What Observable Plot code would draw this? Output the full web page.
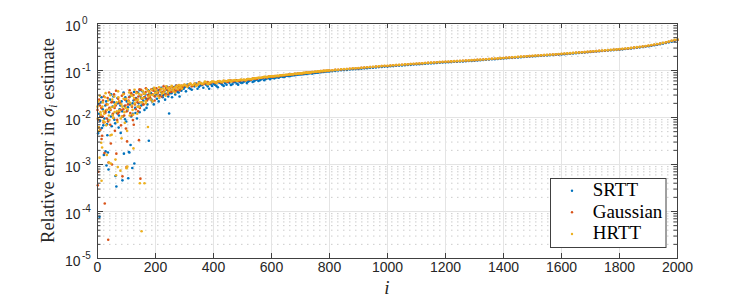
<!DOCTYPE html>
<html>
<head>
<meta charset="utf-8">
<script src="https://cdn.jsdelivr.net/npm/d3@7"></script>
<script src="https://cdn.jsdelivr.net/npm/@observablehq/plot@0.6"></script>
<style>
  html, body { margin: 0; padding: 0; background: #fff; }
  #chart { width: 747px; height: 301px; }
</style>
</head>
<body>
<div id="chart"></div>
<script>
// ---------- data ----------
const seriesNames = ["SRTT", "Gaussian", "HRTT"];
const seriesColors = ["#0072BD", "#D95319", "#EDB120"];

const xTicks = [0, 200, 400, 600, 800, 1000, 1200, 1400, 1600, 1800, 2000];
const yTicks = [1e-5, 1e-4, 1e-3, 1e-2, 1e-1, 1];
const yTickExps = ["-5", "-4", "-3", "-2", "-1", "0"];
const yMinorMult = [2, 3, 4, 5, 6, 7, 8, 9];

// scattered region, [i, relative error]
const srttEarly = [[2,0.0046],[5,0.012],[7,7.7e-5],[9,0.0085],[12,0.021],[15,0.006],[18,0.015],[22,0.0016],[24,0.0095],[27,0.018],[28,0.0019],[31,9.5e-4],[33,0.0072],[34,0.0042],[36,0.0018],[38,7.8e-4],[40,0.013],[43,0.024],[46,0.0105],[49,0.0065],[52,0.017],[55,0.028],[58,0.009],[62,5.7e-4],[65,3.4e-4],[67,0.0125],[70,0.02],[73,0.0061],[76,0.015],[80,0.0047],[83,0.022],[86,4.6e-4],[88,0.0105],[91,0.0017],[93,0.0175],[96,0.027],[99,0.0082],[103,0.014],[106,5.1e-4],[108,0.00185],[110,0.0018],[112,0.019],[114,0.0026],[117,0.031],[120,8.4e-4],[122,0.012],[124,0.023],[127,0.00105],[130,0.016],[133,0.026],[136,0.0095],[139,0.034],[142,0.02],[145,0.013],[148,0.029],[151,0.018],[155,0.036],[158,0.023],[162,0.0145],[165,0.031],[168,0.025],[172,0.019],[175,0.038],[177,0.0032],[180,0.027],[184,0.033],[188,0.022],[192,0.041],[196,0.029],[200,0.035],[205,0.025],[210,0.038],[215,0.03],[220,0.043],[225,0.027],[230,0.036],[235,0.032],[240,0.045],[244,0.028],[247,0.0122],[250,0.038],[255,0.033],[260,0.041],[265,0.036],[270,0.047],[275,0.039],[280,0.034],[285,0.044],[290,0.04],[295,0.046]];
const gaussEarly = [[0,0.0145],[1,3.6e-4],[3,7.0e-4],[4,0.0062],[8,0.018],[11,0.011],[14,0.0035],[16,0.0041],[19,0.023],[21,0.0078],[24,0.00175],[25,1.48e-4],[29,0.014],[32,0.0095],[35,0.026],[37,2.5e-5],[38,0.0011],[41,0.016],[44,0.007],[46,0.0028],[48,0.021],[50,0.001],[53,0.012],[57,0.031],[60,0.0052],[63,0.018],[65,0.0017],[68,0.0089],[71,0.025],[74,0.013],[78,0.02],[81,0.0068],[84,0.029],[86,5.6e-4],[89,0.015],[92,0.011],[95,0.024],[98,0.0058],[100,8.8e-4],[102,0.0031],[105,0.019],[109,0.027],[113,0.0125],[116,0.033],[119,0.017],[122,0.0088],[125,0.007],[128,0.024],[132,0.015],[135,0.035],[138,0.021],[141,0.028],[143,0.0033],[146,0.016],[148,5.0e-4],[150,0.039],[153,0.025],[157,0.019],[160,0.032],[164,0.027],[167,0.042],[171,0.023],[174,0.03],[178,0.036],[182,0.026],[186,0.04],[190,0.031],[194,0.037],[198,0.028],[203,0.042],[208,0.034],[213,0.029],[218,0.04],[223,0.035],[228,0.046],[233,0.031],[238,0.041],[243,0.037],[248,0.044],[253,0.035],[258,0.045],[263,0.04],[268,0.036],[273,0.048],[278,0.042],[283,0.038],[288,0.047],[293,0.043],[298,0.049]];
const hrttEarly = [[1,0.0095],[3,0.022],[6,0.0052],[7,0.0014],[10,0.013],[13,0.0029],[14,4.5e-4],[16,0.0023],[17,0.017],[20,0.0085],[23,0.012],[26,0.027],[30,0.0068],[32,0.0016],[35,0.019],[39,0.011],[40,0.0011],[42,0.015],[45,0.0042],[46,0.00105],[49,0.0043],[51,0.024],[54,0.0098],[56,0.017],[59,0.013],[62,0.00127],[64,5.9e-4],[66,0.021],[69,0.008],[70,8.8e-4],[72,0.027],[75,0.014],[79,7.4e-4],[82,0.019],[83,0.0036],[85,0.0105],[90,0.025],[94,0.0077],[97,0.016],[100,8.3e-4],[102,0.0052],[103,9.0e-4],[107,0.022],[111,0.011],[115,0.03],[118,0.018],[121,0.0145],[124,0.0022],[126,0.026],[129,0.02],[134,0.033],[137,0.012],[140,0.024],[144,0.017],[146,4.0e-4],[149,0.03],[152,3.8e-5],[154,0.021],[156,0.037],[159,0.026],[162,4.0e-4],[163,0.032],[166,0.022],[170,0.04],[174,0.0063],[176,0.028],[179,0.034],[183,0.024],[187,0.039],[191,0.03],[195,0.043],[199,0.033],[202,0.038],[207,0.029],[212,0.044],[217,0.036],[222,0.032],[227,0.041],[232,0.038],[237,0.046],[242,0.034],[246,0.042],[251,0.039],[256,0.047],[261,0.037],[266,0.043],[271,0.045],[276,0.04],[281,0.049],[286,0.044],[291,0.041],[296,0.048]];

// extra points filling the dense cloud and the lower band, [i, relative error]
const srttExtra = [[3,0.019],[10,0.0105],[14,0.027],[20,0.0068],[26,0.013],[30,0.022],[37,0.0088],[42,0.0155],[47,0.031],[53,0.0115],[57,0.021],[61,0.0075],[69,0.026],[74,0.011],[79,0.018],[85,0.0135],[90,0.034],[95,0.0092],[101,0.022],[105,0.0165],[111,0.028],[116,0.0105],[121,0.02],[126,0.035],[131,0.0125],[135,0.024],[141,0.017],[146,0.038],[150,0.026],
[153,0.021],[161,0.027],[169,0.016],[178,0.031],[186,0.024],[194,0.019],[203,0.031],[211,0.022],[219,0.035],[226,0.03],[233,0.024],[238,0.039],[249,0.033],[257,0.027],[263,0.044],[268,0.031],[276,0.035],[283,0.028],[289,0.037],[297,0.041],[305,0.036],[315,0.043],[325,0.039],[335,0.046],[345,0.041],[355,0.048],[365,0.043],[375,0.05],[385,0.041],[395,0.047],[405,0.05],[415,0.044],[425,0.053],[435,0.047],[445,0.05],[455,0.055],[465,0.051],[475,0.057],[485,0.05],[495,0.055],[505,0.058],[515,0.054],[525,0.061],[535,0.057],[545,0.063],[555,0.06],[565,0.065],[575,0.062],[585,0.068],[595,0.065],[605,0.069],[615,0.071],[625,0.07],[635,0.075],[645,0.073],[655,0.077],[665,0.077],[675,0.079],[685,0.08],[695,0.082],[705,0.083],[715,0.084],[725,0.086],[735,0.088],[745,0.089],[755,0.09],[765,0.092],[775,0.093],[785,0.095],[795,0.096]];
const gaussExtra = [[2,0.009],[6,0.024],[10,0.0055],[13,0.016],[18,0.0105],[22,0.028],[27,0.0125],[31,0.019],[36,0.0082],[40,0.034],[45,0.0145],[51,0.0215],[55,0.0098],[59,0.016],[64,0.037],[70,0.012],[75,0.022],[80,0.0145],[85,0.0105],[91,0.032],[96,0.018],[101,0.0135],[107,0.023],[111,0.038],[118,0.011],[124,0.03],[129,0.019],[134,0.025],[140,0.0135],[145,0.04],
[151,0.03],[159,0.019],[166,0.035],[174,0.025],[181,0.029],[189,0.038],[197,0.023],[206,0.033],[214,0.039],[221,0.028],[229,0.037],[236,0.043],[244,0.031],[251,0.04],[259,0.036],[266,0.043],[272,0.038],[279,0.045],[286,0.041],[294,0.046],[305,0.047],[315,0.05],[325,0.046],[335,0.052],[345,0.049],[355,0.054],[365,0.051],[375,0.055],[385,0.052],[395,0.057],[405,0.055],[415,0.058],[425,0.056],[435,0.06],[445,0.058],[455,0.061],[465,0.059],[475,0.062],[485,0.06],[495,0.063],[505,0.063],[515,0.064],[525,0.064],[535,0.067],[545,0.066],[555,0.069],[565,0.069],[575,0.072],[585,0.071],[595,0.074],[605,0.073],[615,0.076],[625,0.075],[635,0.078],[645,0.078],[655,0.08],[665,0.081],[675,0.082],[685,0.083],[695,0.085],[705,0.086],[715,0.088],[725,0.089],[735,0.09],[745,0.092],[755,0.093],[765,0.094],[775,0.096],[785,0.097],[795,0.099]];
const hrttExtra = [[0,0.017],[4,0.0062],[8,0.029],[12,0.0115],[18,0.021],[21,0.0135],[25,0.0079],[28,0.033],[33,0.0145],[37,0.023],[41,0.0088],[44,0.03],[48,0.0165],[52,0.0112],[58,0.028],[61,0.019],[67,0.0135],[71,0.036],[76,0.0225],[80,0.0095],[86,0.017],[89,0.031],[93,0.013],[99,0.025],[104,0.015],[109,0.034],[113,0.0205],[119,0.029],[123,0.0115],[128,0.039],[133,0.023],[138,0.017],[143,0.032],[147,0.021],
[152,0.026],[160,0.033],[167,0.02],[175,0.036],[182,0.03],[190,0.022],[198,0.04],[205,0.034],[213,0.026],[220,0.041],[228,0.034],[235,0.029],[241,0.042],[248,0.037],[254,0.045],[261,0.041],[267,0.034],[274,0.046],[282,0.043],[289,0.048],[305,0.048],[315,0.051],[325,0.049],[335,0.053],[345,0.05],[355,0.055],[365,0.053],[375,0.056],[385,0.054],[395,0.058],[405,0.057],[415,0.059],[425,0.058],[435,0.061],[445,0.059],[455,0.062],[465,0.061],[475,0.063],[485,0.062],[495,0.064],[505,0.064],[515,0.065],[525,0.066],[535,0.067],[545,0.068],[555,0.07],[565,0.07],[575,0.073],[585,0.072],[595,0.075],[605,0.075],[615,0.076],[625,0.077],[635,0.079],[645,0.08],[655,0.081],[665,0.082],[675,0.083],[685,0.084],[695,0.086],[705,0.087],[715,0.089],[725,0.09],[735,0.091],[745,0.093],[755,0.094],[765,0.095],[775,0.097],[785,0.098],[795,0.1]];

// tight band region, sampled at i = 300, 310, ..., 2000
const bandIdx = d3.range(300, 2001, 10);
const srttBand = [
.044,.050,.041,.047,.053,.045,.049,.055,.046,.051,
.052,.047,.055,.050,.054,.058,.049,.056,.053,.057,
.055,.060,.058,.063,.059,.064,.062,.068,.066,.069,
.070,.068,.072,.074,.073,.077,.076,.078,.079,.081,
.082,.083,.084,.087,.086,.089,.090,.092,.093,.095,
.095,.097,.098,.100,.101,.102,.103,.105,.106,.107,
.108,.109,.111,.112,.114,.115,.116,.118,.119,.121,
.121,.123,.124,.126,.127,.128,.130,.131,.132,.134,
.135,.136,.138,.139,.141,.142,.143,.145,.146,.148,
.149,.150,.151,.153,.154,.155,.156,.157,.159,.160,
.162,.164,.165,.167,.169,.171,.173,.174,.176,.178,
.180,.182,.184,.186,.188,.190,.192,.194,.196,.198,
.200,.202,.204,.206,.208,.210,.212,.214,.216,.218,
.220,.223,.225,.228,.231,.234,.237,.239,.242,.245,
.248,.251,.254,.257,.260,.263,.266,.269,.272,.275,
.278,.282,.286,.290,.295,.300,.305,.311,.317,.323,
.329,.337,.346,.355,.364,.374,.385,.397,.411,.427,
.449];
const gaussBand = [
.049,.046,.052,.048,.050,.056,.051,.053,.057,.054,
.057,.055,.059,.056,.060,.057,.061,.059,.062,.060,
.062,.061,.065,.064,.068,.067,.069,.071,.072,.074,
.074,.076,.076,.078,.080,.080,.082,.083,.085,.086,
.087,.088,.090,.091,.093,.094,.095,.097,.098,.099,
.100,.101,.103,.104,.105,.106,.107,.109,.110,.111,
.112,.114,.115,.117,.118,.119,.121,.122,.124,.125,
.125,.127,.129,.130,.131,.133,.134,.135,.137,.138,
.139,.141,.142,.144,.145,.146,.148,.149,.151,.152,
.153,.154,.156,.157,.158,.159,.160,.162,.163,.165,
.166,.168,.169,.171,.173,.175,.177,.178,.180,.182,
.184,.186,.188,.190,.192,.194,.196,.198,.200,.202,
.204,.206,.208,.210,.212,.214,.216,.218,.220,.222,
.225,.227,.230,.233,.236,.238,.241,.244,.246,.249,
.252,.255,.258,.261,.264,.267,.270,.273,.276,.279,
.282,.286,.291,.295,.300,.306,.311,.317,.323,.329,
.336,.345,.354,.363,.373,.384,.396,.410,.427,.440,
.452];
const hrttBand = [
.050,.045,.053,.049,.047,.054,.052,.058,.051,.056,
.058,.054,.060,.057,.059,.061,.058,.062,.060,.063,
.063,.062,.066,.065,.068,.069,.070,.072,.073,.074,
.075,.075,.077,.079,.079,.081,.082,.083,.085,.086,
.087,.089,.090,.091,.093,.094,.096,.097,.098,.100,
.100,.101,.103,.104,.106,.107,.108,.109,.111,.112,
.113,.114,.116,.117,.119,.120,.121,.123,.124,.126,
.126,.128,.129,.131,.132,.133,.135,.136,.137,.139,
.140,.141,.143,.144,.146,.147,.148,.150,.151,.153,
.154,.155,.156,.158,.159,.160,.161,.163,.164,.166,
.167,.169,.170,.172,.174,.176,.178,.180,.181,.183,
.185,.187,.189,.191,.193,.195,.197,.199,.201,.203,
.205,.207,.209,.211,.213,.215,.217,.219,.221,.224,
.226,.229,.231,.234,.237,.240,.242,.245,.248,.251,
.254,.257,.260,.263,.266,.269,.272,.275,.278,.281,
.285,.289,.293,.298,.303,.308,.314,.319,.325,.331,
.339,.348,.357,.366,.376,.387,.399,.413,.429,.448,
.455];

// ---------- build tables ----------
function table(early, extra, band) {
  const rows = early.concat(extra).map(([i, v]) => ({i, v}));
  bandIdx.forEach((i, k) => { if (band[k] !== undefined) rows.push({i, v: band[k]}); });
  return rows;
}
const series = [
  table(srttEarly, srttExtra, srttBand),
  table(gaussEarly, gaussExtra, gaussBand),
  table(hrttEarly, hrttExtra, hrttBand)
];
const yMinor = yTicks.slice(0, -1).flatMap(d => yMinorMult.map(k => k * d));

// ---------- layout ----------
const W = 747, H = 301, mL = 97, mR = 70, mT = 23, mB = 43;
const iw = W - mL - mR, ih = H - mT - mB;
const axisColor = "#404040";

const plot = Plot.plot({
  width: W, height: H,
  marginLeft: mL, marginRight: mR, marginTop: mT, marginBottom: mB,
  x: {domain: [0, 2000], axis: null},
  y: {type: "log", domain: [1e-5, 1], axis: null},
  style: {fontFamily: "'Liberation Sans', Arial, sans-serif", background: "#fff", color: "#262626"},
  marks: [
    Plot.ruleY(yMinor, {stroke: "#cccccc", strokeWidth: 1, strokeDasharray: "1.5,4.5"}),
    Plot.ruleX(xTicks.slice(1, -1), {stroke: "#e4e4e4", strokeWidth: 1}),
    Plot.ruleY(yTicks.slice(1, -1), {stroke: "#e4e4e4", strokeWidth: 1}),
    ...series.map((s, k) => Plot.dot(s, {x: "i", y: "v", r: 1.3, fill: seriesColors[k], stroke: null})),
    Plot.frame({stroke: axisColor, strokeWidth: 1}),
    // x ticks (inward, bottom and top)
    Plot.ruleX(xTicks, {stroke: axisColor, insetTop: ih - 5}),
    Plot.ruleX(xTicks, {stroke: axisColor, insetBottom: ih - 5}),
    // y major ticks
    Plot.ruleY(yTicks, {stroke: axisColor, insetRight: iw - 6}),
    Plot.ruleY(yTicks, {stroke: axisColor, insetLeft: iw - 6}),
    // y minor ticks
    Plot.ruleY(yMinor, {stroke: axisColor, insetRight: iw - 3.5}),
    Plot.ruleY(yMinor, {stroke: axisColor, insetLeft: iw - 3.5}),
    // x tick labels
    Plot.text(xTicks, {x: d => d, frameAnchor: "bottom", dy: 13.5, text: d => String(d), fontSize: 14, fill: "#262626"}),
    // y tick labels: base and exponent
    Plot.text(yTicks, {y: d => d, frameAnchor: "left", dx: -17, dy: 3, textAnchor: "end", text: () => "10", fontSize: 14, fill: "#262626"}),
    Plot.text(yTicks, {y: d => d, frameAnchor: "left", dx: -15.5, dy: -2.5, textAnchor: "start", text: (d, i) => yTickExps[i], fontSize: 10, fill: "#262626"})
  ]
});

const svg = d3.select(plot);
const serif = "'Liberation Serif', 'Times New Roman', serif";

// x label
svg.append("text")
  .attr("x", mL + iw / 2).attr("y", 294)
  .attr("text-anchor", "middle")
  .attr("font-family", serif).attr("font-style", "italic").attr("font-size", 19)
  .attr("fill", "#262626")
  .text("i");

// y label
const yl = svg.append("text")
  .attr("transform", `translate(53.5,${mT + ih / 2}) rotate(-90)`)
  .attr("text-anchor", "middle")
  .attr("font-family", serif).attr("font-size", 18.5)
  .attr("fill", "#262626");
yl.append("tspan").text("Relative error in ");
yl.append("tspan").attr("font-style", "italic").text("σ");
yl.append("tspan").attr("font-style", "italic").attr("font-size", 13).attr("dy", 3.5).text("i");
yl.append("tspan").attr("dy", -3.5).text(" estimate");

// legend
const lg = svg.append("g");
lg.append("rect")
  .attr("x", 550.5).attr("y", 178.5).attr("width", 115.5).attr("height", 69)
  .attr("fill", "#fff").attr("stroke", axisColor).attr("stroke-width", 1);
const rowsY = [190.7, 212.3, 234.0];
const baseY = [196.2, 217.7, 239.4];
seriesNames.forEach((name, k) => {
  lg.append("circle").attr("cx", 572).attr("cy", rowsY[k]).attr("r", 1.2).attr("fill", seriesColors[k]);
  lg.append("text").attr("x", 592.7).attr("y", baseY[k])
    .attr("text-anchor", "start")
    .attr("font-family", serif).attr("font-size", 19).attr("fill", "#000")
    .text(name);
});

document.getElementById("chart").appendChild(plot);
</script>
</body>
</html>
